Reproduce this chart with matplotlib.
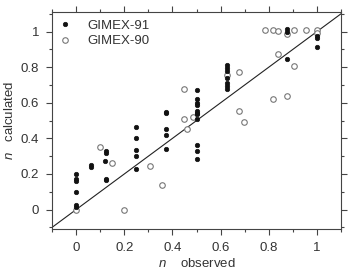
import matplotlib
matplotlib.use("Agg")
import matplotlib.pyplot as plt
from matplotlib.ticker import MultipleLocator

plt.rcParams['font.family'] = ['Liberation Sans', 'DejaVu Sans']
plt.rcParams['mathtext.fontset'] = 'custom'
plt.rcParams['mathtext.it'] = 'Liberation Sans:italic'
plt.rcParams['mathtext.rm'] = 'Liberation Sans'

# GIMEX-91 (filled)
g91_obs = [0, 0, 0, 0, 0, 0,
           0.0625, 0.0625,
           0.125, 0.125, 0.12, 0.125, 0.125,
           0.25, 0.25, 0.25, 0.25, 0.25,
           0.375, 0.375, 0.375, 0.375, 0.375,
           0.5, 0.5, 0.5, 0.5, 0.5, 0.5, 0.5, 0.5, 0.5, 0.5, 0.5,
           0.625, 0.625, 0.625, 0.625, 0.625, 0.625, 0.625,
           0.875, 0.875, 0.875,
           1.0, 1.0, 1.0]
g91_calc = [0.20, 0.17, 0.16, 0.10, 0.025, 0.015,
            0.25, 0.24,
            0.33, 0.32, 0.27, 0.17, 0.165,
            0.465, 0.40, 0.335, 0.30, 0.23,
            0.55, 0.54, 0.45, 0.42, 0.34,
            0.67, 0.62, 0.60, 0.585, 0.555, 0.545, 0.535, 0.51, 0.36, 0.33, 0.285,
            0.815, 0.795, 0.78, 0.74, 0.71, 0.695, 0.68,
            1.015, 1.0, 0.845,
            0.975, 0.965, 0.915]

# GIMEX-90 (open)
g90_obs = [0, 0.1, 0.148, 0.2, 0.307, 0.358, 0.448, 0.448, 0.459, 0.487,
           0.625, 0.678, 0.678, 0.697, 0.784, 0.816, 0.837, 0.877, 0.906,
           0.957, 1.0, 1.0, 0.837, 0.906, 0.816, 0.877]
g90_calc = [0.0, 0.35, 0.26, 0.0, 0.243, 0.136, 0.676, 0.508, 0.452, 0.518,
            0.757, 0.776, 0.554, 0.49, 1.01, 1.01, 1.005, 0.985, 1.01,
            1.01, 1.01, 0.99, 0.875, 0.808, 0.62, 0.64]

fig = plt.figure(figsize=(3.5, 2.75), dpi=100)
ax = fig.add_axes([0.149, 0.167, 0.825, 0.789])

ax.plot([-0.2, 1.2], [-0.2, 1.2], color='#222222', lw=0.8, zorder=1)

ax.plot(g91_obs, g91_calc, 'o', ms=3.2, mfc='#111111', mec='#111111',
        mew=0.5, ls='none', label='GIMEX-91', zorder=3)
ax.plot(g90_obs, g90_calc, 'o', ms=4.0, mfc='white', mec='#777777',
        mew=0.8, ls='none', label='GIMEX-90', zorder=2)

ax.set_xlim(-0.1, 1.1)
ax.set_ylim(-0.11, 1.11)

for s in ax.spines.values():
    s.set_color('#444444')
    s.set_linewidth(0.8)

ax.xaxis.set_major_locator(MultipleLocator(0.2))
ax.xaxis.set_minor_locator(MultipleLocator(0.1))
ax.yaxis.set_major_locator(MultipleLocator(0.2))
ax.yaxis.set_minor_locator(MultipleLocator(0.1))
ax.tick_params(which='both', direction='out', top=True, right=True,
               color='#444444', width=0.8, labelsize=9.5, labelcolor='#333333')
ax.tick_params(which='major', length=4.5, pad=5)
ax.tick_params(which='minor', length=2.5)
ax.set_xticks([0, 0.2, 0.4, 0.6, 0.8, 1.0])
ax.set_xticklabels(['0', '0.2', '0.4', '0.6', '0.8', '1'])
ax.set_yticks([0, 0.2, 0.4, 0.6, 0.8, 1.0])
ax.set_yticklabels(['0', '0.2', '0.4', '0.6', '0.8', '1'])

ax.set_xlabel(r'$n$    observed', fontsize=9.5, color='#333333', labelpad=2)
ax.set_ylabel(r'$n$   calculated', fontsize=9.5, color='#333333', labelpad=3)

leg = ax.legend(loc='upper left', frameon=False, fontsize=9.5,
                handletextpad=1.3, borderaxespad=0.15, labelspacing=0.25,
                handlelength=0.8, borderpad=0.4, labelcolor='#333333')

fig.savefig('out.png', dpi=100)
